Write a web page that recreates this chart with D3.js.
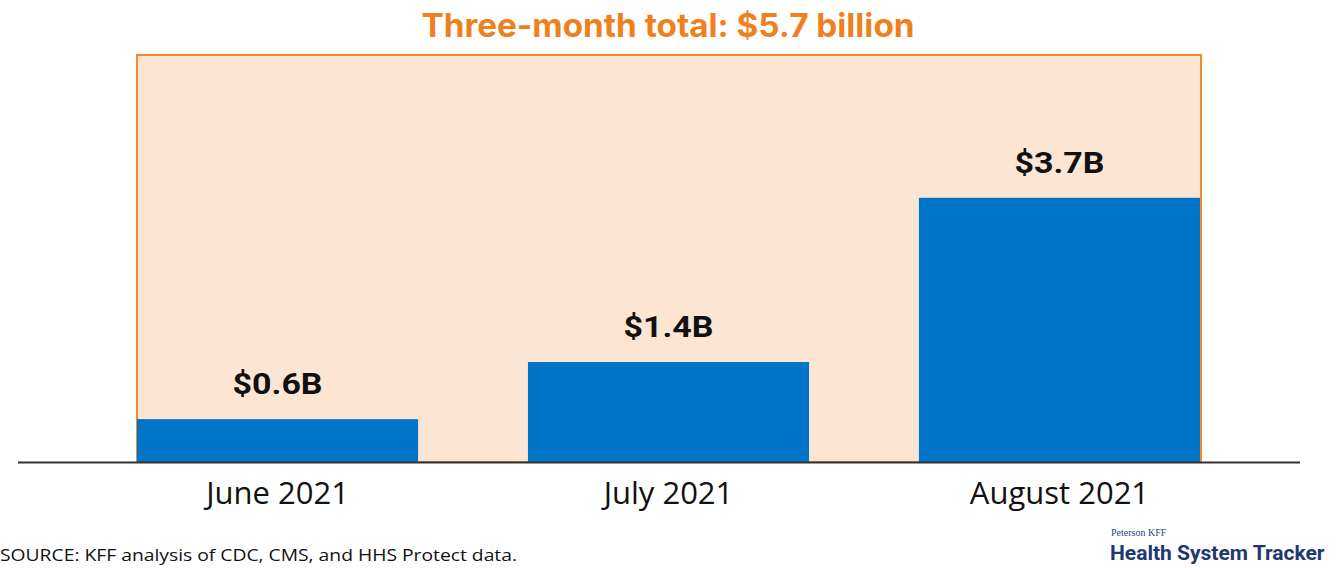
<!DOCTYPE html>
<html><head><meta charset="utf-8">
<script src="https://cdn.jsdelivr.net/npm/d3@7"></script>
<style>body{margin:0;background:#fff}svg{display:block}</style>
</head><body>
<script>
const categories = ["June 2021", "July 2021", "August 2021"];
const values = [0.6, 1.4, 3.7];
const valueLabels = ["$0.6B", "$1.4B", "$3.7B"];
const total = 5.7;
const titleText = "Three-month total: $5.7 billion";
const sourceText = "SOURCE: KFF analysis of CDC, CMS, and HHS Protect data.";

const W = 1342, H = 568;
const svg = d3.select("body").append("svg").attr("width", W).attr("height", H);

const x = d3.scaleBand().domain(categories).range([137, 1200]).paddingInner(0.281).paddingOuter(0);
const y = d3.scaleLinear().domain([0, total]).range([462, 55]);

// total box
svg.append("rect")
  .attr("x", 137).attr("y", y(total))
  .attr("width", 1201 - 137).attr("height", y(0) - y(total))
  .attr("fill", "#fde5d3").attr("stroke", "#f28a30").attr("stroke-width", 2);

svg.append("text").attr("x", 668).attr("y", 37)
  .attr("text-anchor", "middle").attr("font-family", "Inter, Roboto, sans-serif")
  .attr("font-weight", 700).attr("font-size", 32).attr("fill", "#f07f1d")
  .attr("textLength", 493).attr("lengthAdjust", "spacingAndGlyphs")
  .text(titleText);

svg.selectAll("rect.bar").data(values).join("rect").attr("class", "bar")
  .attr("x", (d, i) => x(categories[i])).attr("width", x.bandwidth())
  .attr("y", d => y(d)).attr("height", d => y(0) - y(d))
  .attr("fill", "#0074c6");

svg.selectAll("text.val").data(values).join("text").attr("class", "val")
  .attr("x", (d, i) => x(categories[i]) + x.bandwidth() / 2)
  .attr("y", d => y(d) - 25)
  .attr("text-anchor", "middle").attr("font-family", "Roboto, sans-serif")
  .attr("font-weight", 700).attr("font-size", 30).attr("fill", "#111")
  .attr("textLength", 90).attr("lengthAdjust", "spacingAndGlyphs")
  .text((d, i) => valueLabels[i]);

// axis
const axis = svg.append("g").attr("transform", `translate(0,${y(0)})`)
  .call(d3.axisBottom(x).tickSize(0).tickPadding(20));
axis.select(".domain").remove();
axis.append("line").attr("x1", 18).attr("x2", 1300).attr("y1", 0.5).attr("y2", 0.5)
  .attr("stroke", "#333").attr("stroke-width", 2);
axis.selectAll(".tick text").attr("font-family", "'Open Sans', sans-serif")
  .attr("font-size", 31).attr("fill", "#111").attr("dy", "0.71em");

svg.append("text").attr("x", 0).attr("y", 561)
  .attr("font-family", "'Open Sans', sans-serif").attr("font-size", 16).attr("fill", "#111")
  .attr("textLength", 517).attr("lengthAdjust", "spacingAndGlyphs")
  .text(sourceText);

svg.append("text").attr("x", 1111).attr("y", 536)
  .attr("font-family", "'Liberation Serif', serif").attr("font-size", 10).attr("fill", "#2c4a80")
  .text("Peterson KFF");
svg.append("text").attr("x", 1110).attr("y", 560)
  .attr("font-family", "Roboto, sans-serif").attr("font-weight", 700).attr("font-size", 21).attr("fill", "#1e3870")
  .text("Health System Tracker");
</script>
</body></html>
